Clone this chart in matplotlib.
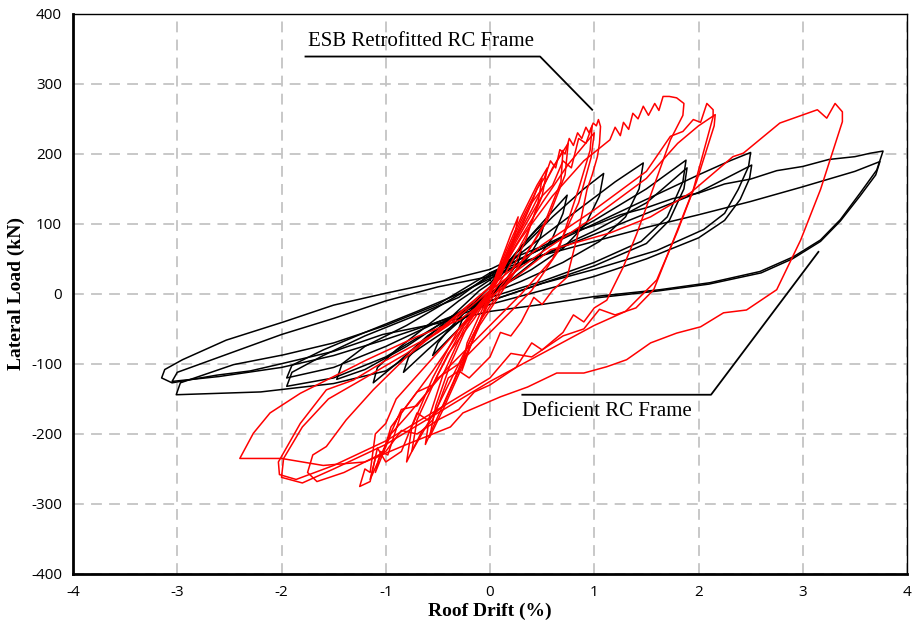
import matplotlib
matplotlib.use("Agg")
import matplotlib.pyplot as plt

plt.rcParams["axes.unicode_minus"] = False

# ---- Deficient RC frame (black) : drift (%) / load (kN), one list pair per cycle ----
blk1_x = [0, 0.1, 0.2, 0.3, 0.27, 0.15, 0.0, -0.1, -0.2, -0.3, -0.27, -0.15, 0.0]
blk1_y = [5, 25, 45, 60, 45, 20, 0, -18, -35, -50, -38, -18, 5]
blk2_x = [0, 0.15, 0.3, 0.45, 0.52, 0.48, 0.38, 0.2, 0.0, -0.2, -0.4, -0.55, -0.5, -0.38, -0.2, 0.0]
blk2_y = [10, 40, 68, 92, 100, 80, 55, 25, -5, -35, -65, -88, -70, -48, -20, 10]
blk3_x = [0, 0.2, 0.4, 0.6, 0.74, 0.7, 0.6, 0.45, 0.2, 0.0, -0.3, -0.6, -0.83, -0.78, -0.6, -0.35, -0.1, 0.0]
blk3_y = [15, 50, 85, 118, 141, 115, 80, 50, 20, 0, -40, -80, -112, -90, -62, -30, 5, 15]
blk4_x = [0, 0.3, 0.6, 0.9, 1.09, 1.05, 0.92, 0.7, 0.4, 0.1, -0.2, -0.6, -0.9, -1.12, -1.08, -0.9, -0.6, -0.3, 0.0]
blk4_y = [20, 65, 110, 150, 172, 140, 100, 65, 35, 10, -20, -60, -100, -127, -105, -80, -45, -10, 20]
blk5_x = [0, 0.4, 0.8, 1.2, 1.47, 1.43, 1.3, 1.05, 0.7, 0.3, 0.0, -0.4, -0.8, -1.2, -1.47, -1.42, -1.2, -0.8, -0.4, 0.0]
blk5_y = [25, 70, 115, 160, 187, 150, 110, 75, 45, 18, 0, -35, -75, -108, -122, -100, -75, -45, -10, 25]
blk6_x = [0, 0.5, 1.0, 1.5, 1.88, 1.85, 1.7, 1.45, 1.0, 0.5, 0.0, -0.5, -1.0, -1.5, -1.95, -1.9, -1.6, -1.2, -0.7, -0.3, 0.0]
blk6_y = [28, 65, 105, 150, 191, 160, 110, 75, 45, 18, -5, -45, -90, -120, -132, -112, -88, -60, -30, -5, 28]
blk7_x = [0, 0.5, 1.0, 1.5, 1.89, 1.86, 1.72, 1.5, 1.0, 0.5, 0.0, -0.5, -1.0, -1.5, -1.95, -1.9, -1.6, -1.2, -0.7, -0.3, 0.0]
blk7_y = [22, 55, 90, 130, 180, 150, 105, 72, 40, 15, -10, -40, -75, -105, -120, -102, -80, -55, -25, 0, 22]
blk8_x = [0, 0.5, 1.0, 1.5, 2.0, 2.3, 2.5, 2.48, 2.38, 2.25, 2.05, 1.6, 1.0, 0.5, 0.0, -0.5, -1.0, -1.5, -2.2,
          -3.01, -2.97, -2.46, -1.98, -1.5, -1.0, -0.5, 0.0]
blk8_y = [30, 65, 100, 135, 170, 190, 202, 182, 149, 115, 92, 62, 35, 15, -10, -60, -110, -128, -140,
          -144, -127, -101, -87, -70, -45, -15, 30]
blk9_x = [0, 0.5, 1.0, 1.5, 2.0, 2.51, 2.49, 2.4, 2.25, 2.0, 1.5, 1.0, 0.5, 0.0, -0.5, -1.0, -1.5, -2.0, -2.6,
          -3.05, -3.0, -2.5, -2.0, -1.5, -1.0, -0.5, 0.0]
blk9_y = [25, 55, 85, 115, 145, 184, 165, 135, 105, 80, 50, 25, 5, -15, -40, -65, -88, -105, -118,
          -125, -112, -85, -58, -35, -10, 10, 25]
blk10_x = [0, 0.25, 0.5, 0.75, 1.0, 1.25, 1.5, 1.75, 2.0, 2.25, 2.5, 2.75, 3.0, 3.25, 3.5, 3.65, 3.77,
           3.71, 3.55, 3.36, 3.17, 2.91, 2.59, 2.11, 1.63, 0.99, 0.5,
           0.0, -0.5, -1.03, -1.5, -1.98, -2.3, -2.62, -3.05, -3.15, -3.12, -2.95, -2.53, -1.98, -1.5, -1.0, -0.4, 0.0]
blk10_y = [35, 53, 68, 86, 98, 113, 123, 136, 144, 157, 164, 176, 182, 192, 196, 201, 204,
           177, 144, 106, 77, 53, 32, 16, 6, -4, -15,
           -25, -42, -58, -82, -99, -110, -116, -127, -120, -108, -94, -66, -40, -16, 1, 20, 35]
blk11_x = [0, 0.5, 1.0, 1.5, 2.0, 2.5, 3.0, 3.5, 3.74, 3.7, 3.55, 3.36, 3.17, 2.9, 2.6, 2.1, 1.6, 1.0]
blk11_y = [30, 55, 75, 95, 113, 132, 153, 175, 189, 170, 140, 104, 75, 50, 30, 14, 4, -6]

# ---- ESB retrofitted RC frame (red) ----
red1_x = [0, 0.1, 0.2, 0.27, 0.22, 0.1, 0.0, -0.1, -0.2, -0.27, -0.22, -0.1, 0.0]
red1_y = [0, 45, 85, 110, 70, 25, 0, -40, -80, -110, -70, -30, 0]
red2_x = [0, 0.15, 0.3, 0.45, 0.55, 0.5, 0.35, 0.15, 0.0, -0.15, -0.3, -0.45, -0.58, -0.52, -0.38, -0.2, 0.0]
red2_y = [5, 60, 110, 155, 180, 140, 85, 30, -5, -60, -115, -165, -205, -160, -100, -40, 5]
red3_x = [0, 0.2, 0.3, 0.4, 0.5, 0.6, 0.75, 0.72, 0.55, 0.3, 0.1, -0.1, -0.3, -0.4, -0.55, -0.65, -0.8,
          -0.75, -0.55, -0.3, 0.0]
red3_y = [5, 70, 95, 130, 150, 180, 215, 170, 105, 45, 0, -45, -110, -120, -180, -195, -240,
          -190, -120, -50, 5]
red4_x = [0, 0.2, 0.4, 0.55, 0.7, 0.68, 0.52, 0.3, 0.1, -0.1, -0.3, -0.5, -0.75, -0.7, -0.5, -0.25, 0.0]
red4_y = [0, 65, 120, 165, 205, 160, 100, 45, 5, -40, -100, -160, -225, -180, -115, -45, 0]
red5_x = [0, 0.15, 0.3, 0.4, 0.45, 0.52, 0.58, 0.63, 0.67, 0.72, 0.76, 0.8, 0.84, 0.88, 0.92, 0.95, 0.99,
          1.02, 1.04, 1.06, 1.05, 1.03, 0.98, 0.93, 0.85, 0.74, 0.6, 0.5, 0.42, 0.3, 0.2, 0.1, 0.0, -0.2,
          -0.3, -0.45, -0.6, -0.7, -0.85, -1.0, -1.08, -1.15, -1.25, -1.2, -1.15, -1.1, -1.0, -0.9, -0.6,
          -0.3, 0.0]
red5_y = [0, 50, 100, 130, 150, 165, 190, 180, 206, 200, 222, 212, 230, 222, 238, 230, 244,
          240, 249, 239, 215, 196, 170, 149, 90, 24, 5, -15, -5, -40, -60, -55, -90, -120,
          -110, -160, -180, -170, -225, -240, -220, -268, -275, -250, -255, -200, -185, -150, -100,
          -50, 0]
red6_x = [0, 0.25, 0.5, 0.6, 0.7, 0.78, 0.85, 0.92, 0.98, 0.96, 0.85, 0.65, 0.4, 0.1, -0.3, -0.5, -0.7, -0.85,
          -1.0, -1.15, -1.1, -1.02, -0.95, -0.7, -0.55, -0.4, -0.15, 0.0]
red6_y = [0, 75, 140, 155, 190, 180, 222, 215, 240, 205, 150, 60, 5, -40, -100, -120, -160, -165,
          -215, -265, -235, -225, -190, -140, -130, -85, -35, 0]
red7_x = [0, 0.25, 0.5, 0.75, 1.0, 0.97, 0.85, 0.6, 0.3, 0.0, -0.4, -0.8, -0.95, -1.1, -1.05, -0.98, -0.85,
          -0.55, -0.25, 0.0]
red7_y = [0, 70, 130, 185, 230, 195, 130, 50, 0, -45, -105, -175, -200, -255, -225, -230, -170,
          -110, -45, 0]
red8_x = [0, 0.3, 0.6, 0.9, 1.15, 1.2, 1.25, 1.28, 1.33, 1.37, 1.42, 1.47, 1.52, 1.58, 1.62, 1.66, 1.72,
          1.79, 1.86, 1.85, 1.73, 1.57, 1.41, 1.28, 1.12, 1.0, 0.9, 0.8, 0.7, 0.5, 0.4, 0.25, 0.0, -0.15,
          -0.3, -0.5, -0.7, -0.85, -1.0, -1.2, -1.4, -1.66, -1.75, -1.7, -1.57, -1.38, -1.12, -0.8, -0.4, 0.0]
red8_y = [10, 80, 140, 190, 220, 238, 226, 245, 235, 258, 250, 268, 255, 272, 262, 282, 282,
          280, 272, 255, 220, 153, 87, 39, -9, -20, -40, -30, -55, -80, -70, -105, -130, -140,
          -165, -180, -200, -195, -225, -240, -255, -268, -255, -230, -218, -180, -137, -90, -40, 10]
red9_x = [0, 0.5, 1.0, 1.5, 1.73, 1.85, 1.95, 2.02, 2.08, 2.14, 2.14, 1.95, 1.76, 1.57, 1.4, 1.2, 1.05, 0.9,
          0.7, 0.4, 0.2, 0.0, -0.5, -1.0, -1.5, -1.86, -2.02, -2.03, -1.82, -1.57, -1.31, -1.0, -0.5, 0.0]
red9_y = [10, 70, 120, 175, 225, 232, 249, 245, 272, 263, 253, 149, 77, 6, -20, -30, -22, -50,
          -60, -90, -85, -120, -165, -210, -245, -265, -258, -240, -185, -137, -123, -95, -55, 10]
red10_x = [0, 0.5, 1.0, 1.5, 1.8, 2.0, 2.16, 2.15, 1.98, 1.8, 1.6, 1.3, 1.0, 0.5, 0.0, -0.5, -1.0, -1.5, -1.8,
           -2.0, -1.98, -1.8, -1.55, -1.2, -0.8, -0.4, 0.0]
red10_y = [5, 60, 110, 165, 215, 240, 256, 240, 160, 90, 20, -25, -45, -85, -125, -170, -215, -250, -270,
           -262, -235, -190, -150, -120, -85, -45, 5]
red11_x = [-0.29, 0.0, 0.58, 1.15, 1.54, 1.92, 2.33, 2.43, 2.78, 3.14, 3.23, 3.31, 3.38, 3.38, 3.17, 2.98, 2.75,
           2.46, 2.24, 2.02, 1.79, 1.54, 1.31, 1.12, 0.9, 0.64, 0.36, 0.1, -0.26, -0.38, -0.8, -1.2, -1.6,
           -2.0, -2.4, -2.27, -2.11, -1.82, -1.5, -1.18, -0.7, -0.29]
red11_y = [-37, -5, 63, 87, 110, 144, 196, 201, 244, 263, 251, 272, 260, 246, 149, 77, 6,
           -23, -27, -47, -56, -70, -94, -104, -113, -113, -133, -147, -170, -190, -215, -240, -245,
           -235, -235, -199, -170, -142, -118, -94, -61, -37]
red12_x = [0, 0.15, 0.3, 0.42, 0.5, 0.46, 0.35, 0.2, 0.0, -0.2, -0.35, -0.5, -0.62, -0.58, -0.45, -0.25, 0.0]
red12_y = [0, 55, 105, 140, 165, 130, 80, 30, -10, -70, -125, -175, -215, -175, -115, -50, 0]

# ---- annotation leaders ----
esb_lead_x = [-1.77, 0.48, 0.98]
esb_lead_y = [339, 339, 263]
def_lead_x = [0.31, 2.12, 3.15]
def_lead_y = [-144, -144, 60]

black_x = [blk1_x, blk2_x, blk3_x, blk4_x, blk5_x, blk6_x, blk7_x, blk8_x, blk9_x, blk10_x, blk11_x]
black_y = [blk1_y, blk2_y, blk3_y, blk4_y, blk5_y, blk6_y, blk7_y, blk8_y, blk9_y, blk10_y, blk11_y]
red_x = [red1_x, red2_x, red3_x, red4_x, red5_x, red6_x, red7_x, red8_x, red9_x, red10_x, red11_x, red12_x]
red_y = [red1_y, red2_y, red3_y, red4_y, red5_y, red6_y, red7_y, red8_y, red9_y, red10_y, red11_y, red12_y]

fig = plt.figure(figsize=(9.16, 6.28), dpi=100)
ax = fig.add_axes([0.0797, 0.086, 0.9105, 0.892])

for xs, ys in zip(black_x, black_y):
    ax.plot(xs, ys, color="black", lw=1.1, zorder=3)
for xs, ys in zip(red_x, red_y):
    ax.plot(xs, ys, color="#ff0000", lw=1.1, zorder=4)

ax.plot(esb_lead_x, esb_lead_y, color="black", lw=1.3, zorder=5)
ax.plot(def_lead_x, def_lead_y, color="black", lw=1.3, zorder=5)
ax.text(-1.75, 347, "ESB Retrofitted RC Frame", fontsize=15, family="Liberation Serif",
        ha="left", va="bottom")
ax.text(0.31, -155, "Deficient RC Frame", fontsize=15, family="Liberation Serif",
        ha="left", va="top")

ax.set_xlim(-4, 4)
ax.set_ylim(-400, 400)
ax.set_xticks(range(-4, 5))
ax.set_yticks(range(-400, 401, 100))
ax.grid(True, color="#c4c4c4", linestyle=(0, (6, 4)), lw=1.3)
ax.set_axisbelow(True)
ax.tick_params(length=0, labelsize=11, pad=8)
for lab in ax.get_xticklabels() + ax.get_yticklabels():
    lab.set_family("Open Sans")
ax.spines["left"].set_linewidth(2)
ax.spines["bottom"].set_linewidth(2)
ax.spines["top"].set_linewidth(1)
ax.spines["right"].set_linewidth(1)

ax.set_xlabel("Roof Drift (%)", fontsize=14, fontweight="bold", family="Liberation Serif", labelpad=2)
ax.set_ylabel("Lateral Load (kN)", fontsize=14, fontweight="bold", family="Liberation Serif", labelpad=4)

fig.savefig("out.png", dpi=100)
